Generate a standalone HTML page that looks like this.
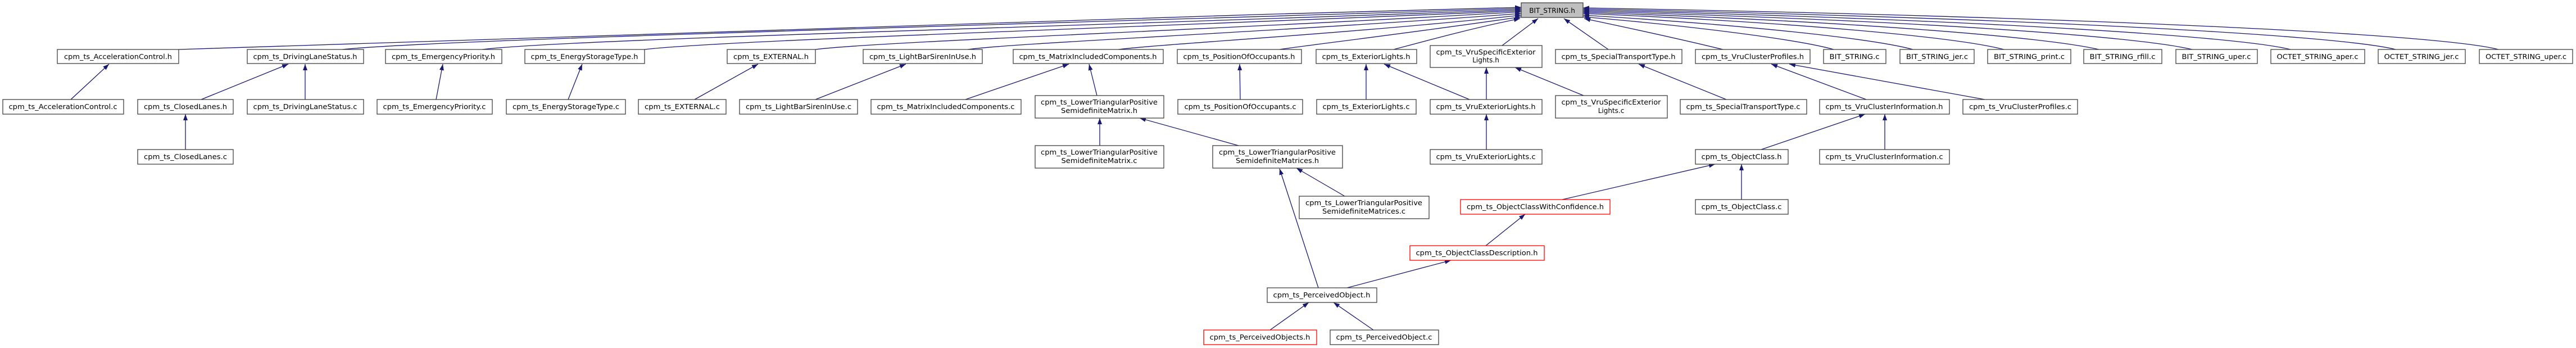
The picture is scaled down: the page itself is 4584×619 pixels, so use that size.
<!DOCTYPE html>
<html><head><meta charset="utf-8"><style>
html,body{margin:0;padding:0;background:#fff}
svg{display:block}
text{font-family:"DejaVu Sans","Liberation Sans",sans-serif;font-size:12px;fill:#000}
.n{fill:#fff;stroke:#404040;stroke-width:1.3}
.r{fill:#fff;stroke:#ff0000;stroke-width:1.3}
.e{fill:none;stroke:#191970;stroke-width:1.3;marker-end:url(#a)}
</style></head><body>
<svg width="4584" height="619" viewBox="0 0 4584 619" xmlns="http://www.w3.org/2000/svg">
<defs><marker id="a" markerUnits="userSpaceOnUse" markerWidth="12" markerHeight="10" refX="11" refY="4" orient="auto"><path d="M0,0 L11,4 L0,8 z" fill="#191970"/></marker></defs>

<!-- edges to BIT_STRING.h -->
<path class="e" d="M318,88 C518,76 1700,40 2707,13"/>
<path class="e" d="M609,88 C780,70 1800,44 2707,15"/>
<path class="e" d="M858,88 C1000,70 1900,48 2707,17"/>
<path class="e" d="M1147,88 C1280,72 2000,50 2707,19"/>
<path class="e" d="M1451,88 C1560,74 2150,54 2707,21"/>
<path class="e" d="M1722,88 C1810,76 2250,58 2707,24"/>
<path class="e" d="M1990,88 C2070,78 2400,60 2707,27"/>
<path class="e" d="M2277,88 C2330,80 2500,60 2707,30"/>
<path class="e" d="M2480,88 C2540,72 2620,50 2705,33"/>
<path class="e" d="M2673,81 L2737,33"/>
<path class="e" d="M2862,88 L2783,33"/>
<path class="e" d="M3066,88 C3000,72 2900,50 2819,33"/>
<path class="e" d="M3263,88 C3200,70 3000,45 2817,30"/>
<path class="e" d="M3404,88 C3330,68 3100,44 2817,27"/>
<path class="e" d="M3566,88 C3480,66 3200,40 2817,24"/>
<path class="e" d="M3735,88 C3640,66 3300,38 2817,22"/>
<path class="e" d="M3901,88 C3800,64 3400,36 2817,20"/>
<path class="e" d="M4076,88 C3980,64 3500,34 2817,18"/>
<path class="e" d="M4263,88 C4160,62 3600,32 2817,16"/>
<path class="e" d="M4446,88 C4340,60 3700,30 2817,14"/>

<!-- other edges -->
<path class="e" d="M126,177 L194,114"/>
<path class="e" d="M358,177 L513,114"/>
<path class="e" d="M543,177 L543,114"/>
<path class="e" d="M330,266 L330,203"/>
<path class="e" d="M776,177 L788,114"/>
<path class="e" d="M1011,177 L1036,114"/>
<path class="e" d="M1236,177 L1349,114"/>
<path class="e" d="M1451,177 L1612,114"/>
<path class="e" d="M1718,177 L1902,114"/>
<path class="e" d="M1952,170 L1938,114"/>
<path class="e" d="M1957,259 L1957,210"/>
<path class="e" d="M2204,259 L2028,210"/>
<path class="e" d="M2207,177 L2206,114"/>
<path class="e" d="M2393,349 L2307,299"/>
<path class="e" d="M2346,512 L2277,300"/>
<path class="e" d="M2431,177 L2431,114"/>
<path class="e" d="M2615,177 L2463,114"/>
<path class="e" d="M2645,177 L2645,120"/>
<path class="e" d="M2818,170 L2696,120"/>
<path class="e" d="M2645,266 L2645,203"/>
<path class="e" d="M3072,177 L2916,114"/>
<path class="e" d="M3321,177 L3152,114"/>
<path class="e" d="M3532,177 L3184,114"/>
<path class="e" d="M3134,266 L3319,203"/>
<path class="e" d="M3354,266 L3354,203"/>
<path class="e" d="M2780,355 L3052,292"/>
<path class="e" d="M3099,355 L3099,292"/>
<path class="e" d="M2644,437 L2714,381"/>
<path class="e" d="M2397,512 L2582,463"/>
<path class="e" d="M2260,587 L2329,538"/>
<path class="e" d="M2444,587 L2373,538"/>

<!-- top node -->
<rect x="2707" y="5" width="110" height="26" fill="#bfbfbf" stroke="#404040" stroke-width="1.3"/>
<text x="2762" y="23" text-anchor="middle">BIT_STRING.h</text>

<!-- row1 -->
<rect class="n" x="102" y="88" width="216" height="25"/><text x="210" y="105" text-anchor="middle" textLength="192" lengthAdjust="spacingAndGlyphs">cpm_ts_AccelerationControl.h</text>
<rect class="n" x="440" y="88" width="207" height="25"/><text x="543" y="105" text-anchor="middle" textLength="185" lengthAdjust="spacingAndGlyphs">cpm_ts_DrivingLaneStatus.h</text>
<rect class="n" x="686" y="88" width="207" height="25"/><text x="789" y="105" text-anchor="middle" textLength="184" lengthAdjust="spacingAndGlyphs">cpm_ts_EmergencyPriority.h</text>
<rect class="n" x="934" y="88" width="213" height="25"/><text x="1040" y="105" text-anchor="middle" textLength="191" lengthAdjust="spacingAndGlyphs">cpm_ts_EnergyStorageType.h</text>
<rect class="n" x="1294" y="88" width="157" height="25"/><text x="1372" y="105" text-anchor="middle" textLength="134" lengthAdjust="spacingAndGlyphs">cpm_ts_EXTERNAL.h</text>
<rect class="n" x="1536" y="88" width="212" height="25"/><text x="1642" y="105" text-anchor="middle" textLength="190" lengthAdjust="spacingAndGlyphs">cpm_ts_LightBarSirenInUse.h</text>
<rect class="n" x="1803" y="88" width="267" height="25"/><text x="1936" y="105" text-anchor="middle" textLength="245" lengthAdjust="spacingAndGlyphs">cpm_ts_MatrixIncludedComponents.h</text>
<rect class="n" x="2095" y="88" width="221" height="25"/><text x="2205" y="105" text-anchor="middle" textLength="199" lengthAdjust="spacingAndGlyphs">cpm_ts_PositionOfOccupants.h</text>
<rect class="n" x="2342" y="88" width="179" height="25"/><text x="2431" y="105" text-anchor="middle" textLength="157" lengthAdjust="spacingAndGlyphs">cpm_ts_ExteriorLights.h</text>
<rect class="n" x="2545" y="81" width="199" height="39"/><text x="2644" y="97" text-anchor="middle" textLength="177" lengthAdjust="spacingAndGlyphs">cpm_ts_VruSpecificExterior</text><text x="2644" y="111" text-anchor="middle">Lights.h</text>
<rect class="n" x="2768" y="88" width="225" height="25"/><text x="2880" y="105" text-anchor="middle" textLength="203" lengthAdjust="spacingAndGlyphs">cpm_ts_SpecialTransportType.h</text>
<rect class="n" x="3017" y="88" width="204" height="25"/><text x="3119" y="105" text-anchor="middle" textLength="182" lengthAdjust="spacingAndGlyphs">cpm_ts_VruClusterProfiles.h</text>
<rect class="n" x="3245" y="88" width="111" height="25"/><text x="3300" y="105" text-anchor="middle" textLength="89" lengthAdjust="spacingAndGlyphs">BIT_STRING.c</text>
<rect class="n" x="3381" y="88" width="132" height="25"/><text x="3447" y="105" text-anchor="middle" textLength="110" lengthAdjust="spacingAndGlyphs">BIT_STRING_jer.c</text>
<rect class="n" x="3537" y="88" width="148" height="25"/><text x="3611" y="105" text-anchor="middle" textLength="126" lengthAdjust="spacingAndGlyphs">BIT_STRING_print.c</text>
<rect class="n" x="3708" y="88" width="139" height="25"/><text x="3777" y="105" text-anchor="middle" textLength="117" lengthAdjust="spacingAndGlyphs">BIT_STRING_rfill.c</text>
<rect class="n" x="3872" y="88" width="145" height="25"/><text x="3944" y="105" text-anchor="middle" textLength="123" lengthAdjust="spacingAndGlyphs">BIT_STRING_uper.c</text>
<rect class="n" x="4041" y="88" width="167" height="25"/><text x="4124" y="105" text-anchor="middle" textLength="145" lengthAdjust="spacingAndGlyphs">OCTET_STRING_aper.c</text>
<rect class="n" x="4232" y="88" width="155" height="25"/><text x="4309" y="105" text-anchor="middle" textLength="133" lengthAdjust="spacingAndGlyphs">OCTET_STRING_jer.c</text>
<rect class="n" x="4412" y="88" width="166" height="25"/><text x="4495" y="105" text-anchor="middle" textLength="144" lengthAdjust="spacingAndGlyphs">OCTET_STRING_uper.c</text>

<!-- row2 -->
<rect class="n" x="5" y="177" width="215" height="26"/><text x="112" y="194" text-anchor="middle" textLength="193" lengthAdjust="spacingAndGlyphs">cpm_ts_AccelerationControl.c</text>
<rect class="n" x="245" y="177" width="170" height="26"/><text x="330" y="194" text-anchor="middle" textLength="148" lengthAdjust="spacingAndGlyphs">cpm_ts_ClosedLanes.h</text>
<rect class="n" x="440" y="177" width="207" height="26"/><text x="543" y="194" text-anchor="middle" textLength="185" lengthAdjust="spacingAndGlyphs">cpm_ts_DrivingLaneStatus.c</text>
<rect class="n" x="671" y="177" width="205" height="26"/><text x="773" y="194" text-anchor="middle" textLength="183" lengthAdjust="spacingAndGlyphs">cpm_ts_EmergencyPriority.c</text>
<rect class="n" x="901" y="177" width="212" height="26"/><text x="1007" y="194" text-anchor="middle" textLength="190" lengthAdjust="spacingAndGlyphs">cpm_ts_EnergyStorageType.c</text>
<rect class="n" x="1136" y="177" width="156" height="26"/><text x="1214" y="194" text-anchor="middle" textLength="134" lengthAdjust="spacingAndGlyphs">cpm_ts_EXTERNAL.c</text>
<rect class="n" x="1316" y="177" width="210" height="26"/><text x="1421" y="194" text-anchor="middle" textLength="188" lengthAdjust="spacingAndGlyphs">cpm_ts_LightBarSirenInUse.c</text>
<rect class="n" x="1550" y="177" width="267" height="26"/><text x="1683" y="194" text-anchor="middle" textLength="245" lengthAdjust="spacingAndGlyphs">cpm_ts_MatrixIncludedComponents.c</text>
<rect class="n" x="1842" y="170" width="229" height="40"/><text x="1956" y="186" text-anchor="middle" textLength="208" lengthAdjust="spacingAndGlyphs">cpm_ts_LowerTriangularPositive</text><text x="1956" y="201" text-anchor="middle" textLength="136" lengthAdjust="spacingAndGlyphs">SemidefiniteMatrix.h</text>
<rect class="n" x="2096" y="177" width="222" height="26"/><text x="2207" y="194" text-anchor="middle" textLength="199" lengthAdjust="spacingAndGlyphs">cpm_ts_PositionOfOccupants.c</text>
<rect class="n" x="2343" y="177" width="177" height="26"/><text x="2431" y="194" text-anchor="middle" textLength="155" lengthAdjust="spacingAndGlyphs">cpm_ts_ExteriorLights.c</text>
<rect class="n" x="2545" y="177" width="199" height="26"/><text x="2644" y="194" text-anchor="middle" textLength="177" lengthAdjust="spacingAndGlyphs">cpm_ts_VruExteriorLights.h</text>
<rect class="n" x="2768" y="170" width="199" height="40"/><text x="2867" y="186" text-anchor="middle" textLength="177" lengthAdjust="spacingAndGlyphs">cpm_ts_VruSpecificExterior</text><text x="2867" y="201" text-anchor="middle">Lights.c</text>
<rect class="n" x="2990" y="177" width="225" height="26"/><text x="3102" y="194" text-anchor="middle" textLength="203" lengthAdjust="spacingAndGlyphs">cpm_ts_SpecialTransportType.c</text>
<rect class="n" x="3238" y="177" width="231" height="26"/><text x="3353" y="194" text-anchor="middle" textLength="209" lengthAdjust="spacingAndGlyphs">cpm_ts_VruClusterInformation.h</text>
<rect class="n" x="3493" y="177" width="204" height="26"/><text x="3595" y="194" text-anchor="middle" textLength="182" lengthAdjust="spacingAndGlyphs">cpm_ts_VruClusterProfiles.c</text>

<!-- row3 -->
<rect class="n" x="245" y="266" width="170" height="26"/><text x="330" y="283" text-anchor="middle" textLength="148" lengthAdjust="spacingAndGlyphs">cpm_ts_ClosedLanes.c</text>
<rect class="n" x="1842" y="259" width="229" height="40"/><text x="1956" y="275" text-anchor="middle" textLength="208" lengthAdjust="spacingAndGlyphs">cpm_ts_LowerTriangularPositive</text><text x="1956" y="290" text-anchor="middle" textLength="135" lengthAdjust="spacingAndGlyphs">SemidefiniteMatrix.c</text>
<rect class="n" x="2158" y="259" width="231" height="40"/><text x="2273" y="275" text-anchor="middle" textLength="208" lengthAdjust="spacingAndGlyphs">cpm_ts_LowerTriangularPositive</text><text x="2273" y="290" text-anchor="middle" textLength="148" lengthAdjust="spacingAndGlyphs">SemidefiniteMatrices.h</text>
<rect class="n" x="2545" y="266" width="199" height="26"/><text x="2644" y="283" text-anchor="middle" textLength="177" lengthAdjust="spacingAndGlyphs">cpm_ts_VruExteriorLights.c</text>
<rect class="n" x="3017" y="266" width="165" height="26"/><text x="3099" y="283" text-anchor="middle" textLength="143" lengthAdjust="spacingAndGlyphs">cpm_ts_ObjectClass.h</text>
<rect class="n" x="3238" y="266" width="231" height="26"/><text x="3353" y="283" text-anchor="middle" textLength="209" lengthAdjust="spacingAndGlyphs">cpm_ts_VruClusterInformation.c</text>

<!-- row4 -->
<rect class="n" x="2312" y="349" width="231" height="40"/><text x="2427" y="365" text-anchor="middle" textLength="208" lengthAdjust="spacingAndGlyphs">cpm_ts_LowerTriangularPositive</text><text x="2427" y="380" text-anchor="middle" textLength="148" lengthAdjust="spacingAndGlyphs">SemidefiniteMatrices.c</text>
<rect class="r" x="2599" y="355" width="266" height="26"/><text x="2732" y="372" text-anchor="middle" textLength="244" lengthAdjust="spacingAndGlyphs">cpm_ts_ObjectClassWithConfidence.h</text>
<rect class="n" x="3017" y="355" width="165" height="26"/><text x="3099" y="372" text-anchor="middle" textLength="143" lengthAdjust="spacingAndGlyphs">cpm_ts_ObjectClass.c</text>

<!-- row5 -->
<rect class="r" x="2509" y="437" width="239" height="26"/><text x="2628" y="454" text-anchor="middle" textLength="217" lengthAdjust="spacingAndGlyphs">cpm_ts_ObjectClassDescription.h</text>

<!-- row6 -->
<rect class="n" x="2255" y="512" width="195" height="26"/><text x="2352" y="529" text-anchor="middle" textLength="173" lengthAdjust="spacingAndGlyphs">cpm_ts_PerceivedObject.h</text>

<!-- row7 -->
<rect class="r" x="2142" y="587" width="201" height="26"/><text x="2242" y="604" text-anchor="middle" textLength="179" lengthAdjust="spacingAndGlyphs">cpm_ts_PerceivedObjects.h</text>
<rect class="n" x="2367" y="587" width="193" height="26"/><text x="2463" y="604" text-anchor="middle" textLength="171" lengthAdjust="spacingAndGlyphs">cpm_ts_PerceivedObject.c</text>
</svg>
</body></html>
